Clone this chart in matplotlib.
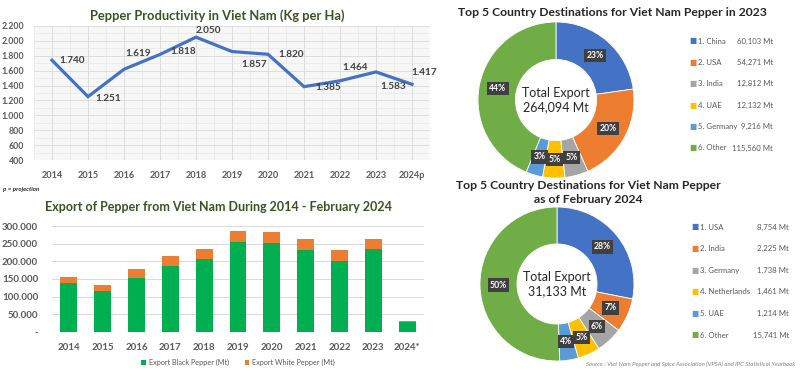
import numpy as np
import matplotlib.pyplot as plt
from matplotlib.ticker import FuncFormatter, MultipleLocator

plt.rcParams['font.family'] = ['Lato', 'DejaVu Sans']

# ---- data ----
years = ['2014', '2015', '2016', '2017', '2018', '2019', '2020', '2021', '2022', '2023', '2024p']
productivity = [1740, 1251, 1619, 1818, 2050, 1857, 1820, 1385, 1464, 1583, 1417]

export_years = ['2014', '2015', '2016', '2017', '2018', '2019', '2020', '2021', '2022', '2023', '2024*']
black_pepper = [139000, 115000, 154000, 186000, 208000, 255000, 251000, 231000, 201000, 235000, 28000]
white_pepper = [16000, 17000, 24000, 28000, 27000, 31000, 31000, 31000, 30000, 29000, 3000]

dest_2023 = ['1. China', '2. USA', '3. India', '4. UAE', '5. Germany', '6. Other']
vol_2023 = [60103, 54271, 12812, 12132, 9216, 115560]
pct_2023 = ['23%', '20%', '5%', '5%', '3%', '44%']

dest_2024 = ['1. USA', '2. India', '3. Germany', '4. Netherlands', '5. UAE', '6. Other']
vol_2024 = [8754, 2225, 1738, 1461, 1214, 15741]
pct_2024 = ['28%', '7%', '6%', '5%', '4%', '50%']

# ---- styling ----
W, H = 800, 383
donut_colors = ['#4472C4', '#ED7D31', '#A5A5A5', '#FFC000', '#5B9BD5', '#70AD47']
tick_col = '#595959'
green_title = '#3B5323'

# label offsets (px) for the line chart data labels
label_off = [(20, 0), (20, -2), (14, 16), (23, 3), (12, 7), (22, -13),
             (23, 0), (24, -1), (15, 13), (17, -15), (12, 12)]

fig = plt.figure(figsize=(W / 100, H / 100), dpi=100)


def px_axes(l, t, r, b):
    return fig.add_axes([l / W, 1 - b / H, (r - l) / W, (b - t) / H])


def ftext(x, y, s, **kw):
    return fig.text(x / W, 1 - y / H, s, **kw)


def dotfmt(v, pos=None):
    if v == 0:
        return '-'
    return f'{int(round(v)):,}'.replace(',', '.')


# ---- line chart ----
ax = px_axes(34, 26, 430, 160)
x = np.arange(len(years))
ax.set_facecolor('#F7F7F7')
ax.plot(x, productivity, color='#4472C4', lw=2.3, solid_joinstyle='miter')
ax.set_xlim(-0.5, len(years) - 0.5)
ax.set_ylim(400, 2200)
ax.yaxis.set_major_locator(MultipleLocator(200))
ax.yaxis.set_minor_locator(MultipleLocator(100))
ax.xaxis.set_minor_locator(MultipleLocator(0.5))
ax.yaxis.set_major_formatter(FuncFormatter(dotfmt))
ax.set_xticks(x)
ax.set_xticklabels(years)
ax.grid(which='major', color='#DADADA', lw=0.6)
ax.grid(which='minor', color='#E8E8E8', lw=0.5)
ax.set_axisbelow(True)
for s in ax.spines.values():
    s.set_visible(False)
ax.tick_params(which='both', length=0)
ax.tick_params(axis='y', pad=7, labelsize=6.3, labelcolor=tick_col)
ax.tick_params(axis='x', pad=8, labelsize=6.6, labelcolor=tick_col)
for lab in ax.get_xticklabels() + ax.get_yticklabels():
    lab.set_fontweight('bold')
for i, v in enumerate(productivity):
    dx, dy = label_off[i]
    ax.annotate(dotfmt(v), (i, v), xytext=(dx * 0.72, dy * 0.72), textcoords='offset points',
                ha='center', va='center', fontsize=7.2, fontweight='bold', color='#404040')
ftext(217, 16, 'Pepper Productivity in Viet Nam (Kg per Ha)', ha='center', va='center',
      fontsize=9.3, fontweight='bold', color=green_title)
ftext(3, 189, 'p = projection', ha='left', va='center', fontsize=4.5,
      fontweight='bold', style='italic', color='#262626')

# ---- bar chart ----
bx = px_axes(52, 226, 424, 332)
xb = np.arange(len(export_years))
bx.bar(xb, black_pepper, width=0.5, color='#00B050', label='Export Black Pepper (Mt)', zorder=2)
bx.bar(xb, white_pepper, width=0.5, bottom=black_pepper, color='#ED7D31',
       label='Export White Pepper (Mt)', zorder=2)
bx.set_xlim(-0.5, len(export_years) - 0.5)
bx.set_ylim(0, 300000)
bx.yaxis.set_major_locator(MultipleLocator(50000))
bx.yaxis.set_major_formatter(FuncFormatter(dotfmt))
bx.set_xticks(xb)
bx.set_xticklabels(export_years)
bx.grid(axis='y', color='#D9D9D9', lw=0.7)
bx.set_axisbelow(True)
for s in bx.spines.values():
    s.set_visible(False)
bx.tick_params(length=0)
bx.tick_params(axis='y', pad=10, labelsize=7, labelcolor=tick_col)
bx.tick_params(axis='x', pad=8, labelsize=7, labelcolor=tick_col)
for lab in bx.get_xticklabels() + bx.get_yticklabels():
    lab.set_fontweight('bold')
bx.legend(loc='center', bbox_to_anchor=(0.5, -0.29), ncol=2, frameon=False, fontsize=5.2,
          handlelength=0.6, handleheight=0.6, handletextpad=0.4, columnspacing=2.2,
          labelcolor=tick_col)
ftext(218, 207, 'Export of Pepper from Viet Nam During 2014 - February 2024', ha='center',
      va='center', fontsize=9.0, fontweight='bold', color=green_title)


# ---- donuts ----
def donut(cx, cy, r, values, pcts, names, total_lbl, leg_x, leg_val_x, leg_y0, leg_dy):
    dax = px_axes(cx - r, cy - r, cx + r, cy + r)
    wedges, _, autot = dax.pie(values, colors=donut_colors, startangle=90, counterclock=False,
                               radius=1, autopct='%1.0f%%', pctdistance=0.76,
                               wedgeprops=dict(width=0.48, edgecolor='white', linewidth=0.6))
    for t, p in zip(autot, pcts):
        t.set_text(p)
        t.set_color('white')
        t.set_fontsize(6.2)
        t.set_fontweight('bold')
        t.set_bbox(dict(boxstyle='square,pad=0.25', fc='#404040', ec='none'))
    dax.set_xlim(-1, 1)
    dax.set_ylim(-1, 1)
    dax.set_aspect('equal')
    dax.text(0, 0, total_lbl, ha='center', va='center', fontsize=9, color='#262626',
             linespacing=1.25)
    for i, (n, v) in enumerate(zip(names, values)):
        y = leg_y0 + i * leg_dy
        ftext(leg_x, y, '■', ha='center', va='center', fontsize=5.5, color=donut_colors[i],
              family=['DejaVu Sans'])
        ftext(leg_x + 5, y, n, ha='left', va='center', fontsize=5.6, color=tick_col)
        ftext(leg_val_x, y, f'{v:,} Mt', ha='right', va='center', fontsize=5.6, color=tick_col)


donut(556, 100, 78, vol_2023, pct_2023, dest_2023, f'Total Export\n{sum(vol_2023):,} Mt',
      693, 773, 41, 21.4)
ftext(612, 12, 'Top 5 Country Destinations for Viet Nam Pepper in 2023', ha='center',
      va='center', fontsize=8.7, fontweight='bold', color='#262626')

donut(557, 284, 77, vol_2024, pct_2024, dest_2024, f'Total Export\n{sum(vol_2024):,} Mt',
      695, 789, 227, 21.6)
ftext(588, 192.5, 'Top 5 Country Destinations for Viet Nam Pepper\nas of February 2024',
      ha='center', va='center', fontsize=8.7, fontweight='bold', color='#262626',
      linespacing=1.25)

ftext(795, 364, 'Source : Viet Nam Pepper and Spice Association (VPSA) and IPC Statistical Yearbook',
      ha='right', va='center', fontsize=4.3, style='italic', color='#808080')

fig.savefig('out.png', dpi=100, facecolor='white')
